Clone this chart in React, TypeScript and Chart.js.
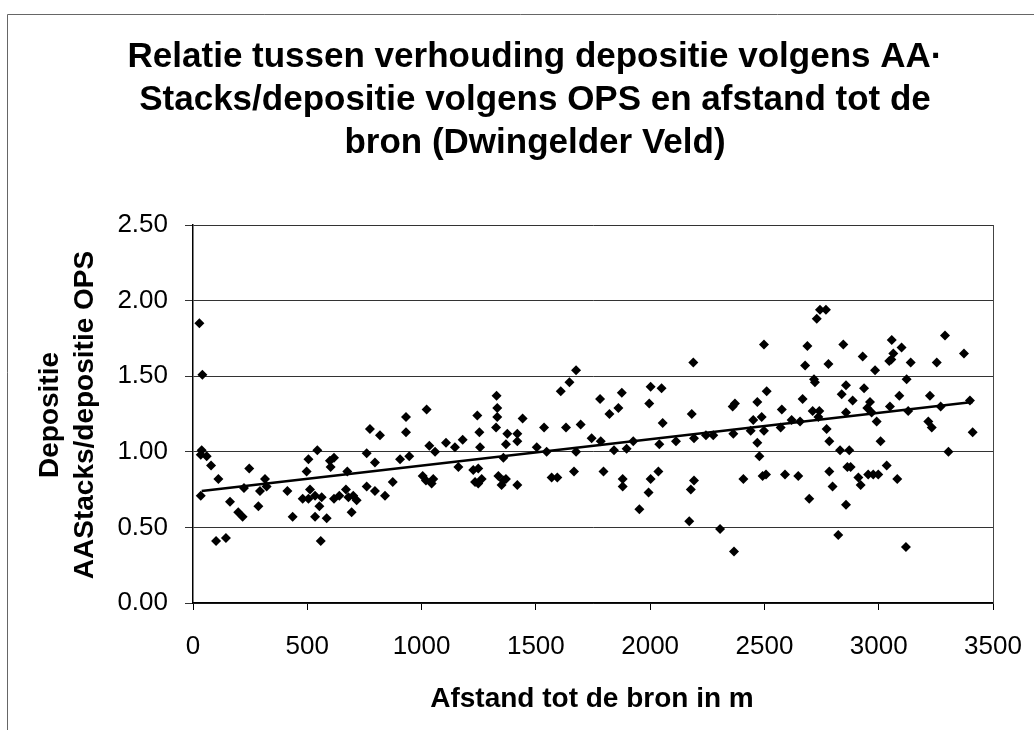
import React, { useEffect, useRef } from "react";
import { Chart, registerables } from "chart.js";

Chart.register(...registerables);

// Afstand tot de bron (m)
const distX: number[] = [
  28, 41, 38, 34, 60, 79, 34, 111, 101, 144, 162, 198, 217, 246, 223, 286, 293, 315, 322, 413,
  436, 480, 505, 497, 505, 544, 512, 534, 563, 553, 534, 585, 559, 599, 617, 602, 617, 640, 669, 680,
  701, 716, 694, 675, 760, 796, 774, 818, 760, 796, 840, 874, 906, 932, 932, 946,
  1022, 1005, 1019, 1044, 1051, 1034, 1059, 1107, 1146, 1180, 1161, 1234, 1263, 1248, 1226, 1248, 1256, 1253, 1244, 1328,
  1331, 1331, 1326, 1358, 1369, 1375, 1419, 1419, 1442, 1336, 1358, 1369, 1350, 1419, 1504, 1536, 1547, 1569, 1594, 1609,
  1647, 1676, 1632, 1676, 1667, 1696, 1744, 1784, 1781, 1822, 1861, 1876, 1796, 1842, 1880, 1880, 1897,
  1926, 2002, 2050, 1996, 2055, 2040, 2113, 2189, 2182, 2192, 2244, 2276, 2364, 2371, 2361, 2440, 2451, 2469, 2488, 2498,
  2469, 2478, 2498, 2510, 2576, 2571, 2619, 2656, 2667, 2678, 2688, 2717, 2721, 2711, 2740, 2736, 2729, 2743, 2769, 2780,
  2772, 2784, 2831, 2845, 2857, 2838, 2857, 2863, 2784, 2798, 2857, 2823, 2002, 2036, 1993, 1953, 2192, 2178, 2171, 2306,
  2367, 2408, 2492, 2507, 2590, 2648, 2696,
  2930, 2984, 3057, 3100, 3064, 3046, 3055, 3140, 3254, 3290, 3373, 3122, 2936, 2886, 2962, 2950, 2969, 2991, 3049, 3090,
  3129, 3224, 3271, 3217, 3232, 3399, 3411, 3008, 3305, 2871, 2877, 2911, 2921, 2954, 2976, 2998, 3035, 3081, 3119,
];

// Depositie AAStacks / depositie OPS
const ratioY: number[] = [
  1.85, 1.51, 1.01, 0.98, 0.97, 0.91, 0.71, 0.82, 0.41, 0.43, 0.67, 0.60, 0.57, 0.89, 0.76, 0.64, 0.74, 0.82, 0.77, 0.74,
  0.57, 0.69, 0.69, 0.87, 0.95, 1.01, 0.75, 0.71, 0.70, 0.64, 0.57, 0.56, 0.41, 0.94, 0.96, 0.90, 0.69, 0.71, 0.75, 0.70,
  0.71, 0.68, 0.60, 0.87, 0.99, 0.93, 1.15, 1.11, 0.77, 0.74, 0.71, 0.80, 0.95, 1.23, 1.13, 0.97,
  1.28, 0.84, 0.81, 0.79, 0.82, 1.04, 1.00, 1.06, 1.03, 1.08, 0.90, 0.80, 0.82, 0.79, 0.88, 0.89, 1.03, 1.13, 1.24, 1.37,
  1.29, 1.23, 1.16, 0.96, 1.05, 1.12, 1.12, 1.07, 1.22, 0.84, 0.81, 0.82, 0.78, 0.78, 1.03, 1.16, 1.00, 0.83, 0.83, 1.40,
  1.46, 1.54, 1.16, 1.00, 0.87, 1.18, 1.09, 1.07, 1.35, 1.25, 1.29, 1.39, 0.87, 1.01, 0.82, 0.77, 1.02,
  1.07, 1.43, 1.42, 1.32, 1.19, 1.05, 1.07, 1.59, 1.25, 1.09, 1.11, 1.11, 1.12, 1.32, 1.30, 1.14, 1.21, 1.33, 1.23, 1.14,
  1.06, 0.97, 1.71, 1.40, 1.28, 1.16, 1.21, 1.20, 1.35, 1.57, 1.70, 1.48, 1.46, 1.27, 1.27, 1.23, 1.88, 1.94, 1.94, 1.58,
  1.15, 1.07, 1.01, 1.71, 1.44, 1.38, 1.26, 0.90, 0.87, 0.77, 0.65, 0.45, 0.82, 0.87, 0.73, 0.62, 0.81, 0.75, 0.54, 0.49,
  0.34, 0.82, 0.84, 0.85, 0.85, 0.84, 0.69,
  1.63, 1.54, 1.74, 1.69, 1.65, 1.60, 1.61, 1.59, 1.59, 1.77, 1.65, 1.48, 1.42, 1.34, 1.33, 1.29, 1.26, 1.20, 1.30, 1.37,
  1.27, 1.37, 1.30, 1.20, 1.16, 1.34, 1.13, 1.07, 1.00, 1.01, 0.90, 0.83, 0.78, 0.85, 0.85, 0.85, 0.91, 0.82, 0.37,
];

// Linear trend line end points
const trendX: number[] = [38, 3411];
const trendY: number[] = [0.74, 1.33];

const xMin = 0;
const xMax = 3500;
const xStep = 500;
const yMin = 0;
const yMax = 2.5;
const yStep = 0.5;

const titleLines: string[] = [
  "Relatie tussen verhouding depositie volgens AA·",
  "Stacks/depositie volgens OPS en afstand tot de",
  "bron (Dwingelder Veld)",
];
const yTitleLines: string[] = ["Depositie", "AAStacks/depositie OPS"];
const xTitle = "Afstand tot de bron in m";

const FONT = '"Liberation Sans", Arial, sans-serif';

const decorPlugin = {
  id: "decor",
  afterDraw(chart: any) {
    const ctx = chart.ctx as CanvasRenderingContext2D;
    const area = chart.chartArea;
    ctx.save();
    // outer frame (left and top)
    ctx.strokeStyle = "#666";
    ctx.lineWidth = 1;
    ctx.beginPath();
    ctx.moveTo(7.5, 730);
    ctx.lineTo(7.5, 14.5);
    ctx.lineTo(1034, 14.5);
    ctx.stroke();
    // plot area right border
    ctx.strokeStyle = "#444";
    ctx.beginPath();
    ctx.moveTo(Math.round(area.right) + 0.5, area.top);
    ctx.lineTo(Math.round(area.right) + 0.5, area.bottom);
    ctx.stroke();

    ctx.fillStyle = "#000";
    // title
    ctx.font = `bold 35px ${FONT}`;
    ctx.textAlign = "center";
    ctx.textBaseline = "alphabetic";
    const ty = [67, 110, 153];
    titleLines.forEach((t, i) => ctx.fillText(t, 535, ty[i]));

    // x title
    ctx.textBaseline = "middle";
    ctx.font = `bold 28px ${FONT}`;
    ctx.fillText(xTitle, 592, 699);

    // y title
    ctx.font = `bold 28px ${FONT}`;
    const yx = [50, 85];
    yTitleLines.forEach((t, i) => {
      ctx.save();
      ctx.translate(yx[i], 415);
      ctx.rotate(-Math.PI / 2);
      ctx.fillText(t, 0, 0);
      ctx.restore();
    });
    ctx.restore();
  },
};

export default function App() {
  const ref = useRef<HTMLCanvasElement | null>(null);

  useEffect(() => {
    if (!ref.current) return;
    const points = distX.map((x, i) => ({ x, y: ratioY[i] }));
    const trend = trendX.map((x, i) => ({ x, y: trendY[i] }));
    const chart = new Chart(ref.current, {
      type: "scatter",
      data: {
        datasets: [
          {
            type: "line",
            data: trend,
            borderColor: "#000",
            borderWidth: 2.5,
            pointRadius: 0,
            fill: false,
            showLine: true,
          } as any,
          {
            type: "scatter",
            data: points,
            pointStyle: "rectRot",
            pointRadius: 5,
            backgroundColor: "#000",
            borderColor: "#000",
            borderWidth: 0,
          } as any,
        ],
      },
      options: {
        responsive: false,
        animation: false,
        layout: { padding: { left: 0, right: 41, top: 225, bottom: 0 } },
        plugins: {
          legend: { display: false },
          tooltip: { enabled: false },
          title: { display: false },
        },
        scales: {
          x: {
            type: "linear",
            min: xMin,
            max: xMax,
            ticks: {
              stepSize: xStep,
              color: "#000",
              padding: 21,
              maxRotation: 0,
              font: { family: FONT, size: 26 },
              callback: (v: any) => String(v),
            },
            grid: { drawOnChartArea: false, drawTicks: true, tickLength: 7, color: "#000" },
            border: { color: "#000", width: 1.5 },
            afterFit: (s: any) => {
              s.height = 127;
              s.paddingLeft = 0;
              s.paddingRight = 0;
            },
          },
          y: {
            type: "linear",
            min: yMin,
            max: yMax,
            ticks: {
              stepSize: yStep,
              color: "#000",
              padding: 17,
              font: { family: FONT, size: 26 },
              callback: (v: any) => Number(v).toFixed(2),
            },
            grid: { color: "#333", lineWidth: 1, tickLength: 8 },
            border: { color: "#000", width: 1.5 },
            afterFit: (s: any) => {
              s.width = 193;
              s.paddingTop = 0;
              s.paddingBottom = 0;
            },
          },
        },
      },
      plugins: [decorPlugin],
    });
    return () => chart.destroy();
  }, []);

  return (
    <div style={{ position: "absolute", left: 0, top: 0, width: 1034, height: 730, background: "#fff" }}>
      <canvas ref={ref} width={1034} height={730} style={{ display: "block" }} />
    </div>
  );
}
